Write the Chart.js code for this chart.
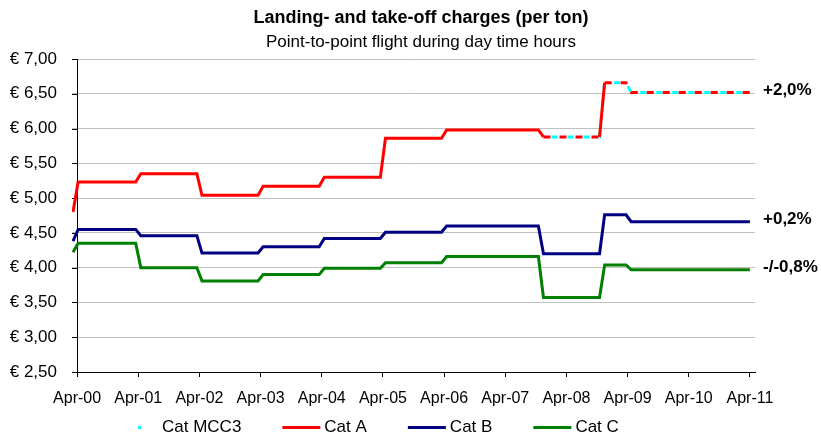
<!DOCTYPE html>
<html>
<head>
<meta charset="utf-8">
<script src="https://cdn.jsdelivr.net/npm/chart.js@4.4.1/dist/chart.umd.min.js"></script>
<style>
  html, body { margin: 0; padding: 0; background: #ffffff; }
  canvas { display: block; }
</style>
</head>
<body>
<canvas id="charges" width="821" height="437"></canvas>
<script>
// Months counted from April 2000 (0 = Apr-00, 12 = Apr-01, ...).
// Each tariff change is a pair of points: old level, then new level.
const months = [-0.8, 0.2, 11.5, 12.5, 23.5, 24.5, 35.5, 36.5, 47.5, 48.5, 59.5, 60.5,
                71.5, 72.5, 90.5, 91.5, 102.5, 103.5, 107.7, 108.7, 132];

const catA = [4.80, 5.23, 5.23, 5.35, 5.35, 5.04, 5.04, 5.17, 5.17, 5.30, 5.30, 5.86,
              5.86, 5.98, 5.98, 5.88, 5.88, 6.66, 6.66, 6.52, 6.52];
const catB = [4.38, 4.55, 4.55, 4.46, 4.46, 4.21, 4.21, 4.30, 4.30, 4.42, 4.42, 4.51,
              4.51, 4.60, 4.60, 4.20, 4.20, 4.76, 4.76, 4.66, 4.66];
const catC = [4.22, 4.35, 4.35, 4.00, 4.00, 3.81, 3.81, 3.90, 3.90, 3.99, 3.99, 4.07,
              4.07, 4.16, 4.16, 3.57, 3.57, 4.04, 4.04, 3.97, 3.97];

// MCC3 category only exists from late 2007 onwards
const mcc3Months = [91.5, 102.5, 103.5, 107.7, 108.7, 132];
const mcc3 = [5.88, 5.88, 6.66, 6.66, 6.52, 6.52];

// Cat A is shown dashed (forecast) from this month on
const forecastFrom = 91.5;

const xTickLabels = ['Apr-00', 'Apr-01', 'Apr-02', 'Apr-03', 'Apr-04', 'Apr-05',
                     'Apr-06', 'Apr-07', 'Apr-08', 'Apr-09', 'Apr-10', 'Apr-11'];
const yTickValues = [2.5, 3.0, 3.5, 4.0, 4.5, 5.0, 5.5, 6.0, 6.5, 7.0];
const yTickLabels = ['€ 2,50', '€ 3,00', '€ 3,50', '€ 4,00', '€ 4,50',
                     '€ 5,00', '€ 5,50', '€ 6,00', '€ 6,50', '€ 7,00'];

const endLabels = ['+2,0%', '+0,2%', '-/-0,8%'];

const FONT = "'Liberation Sans', Arial, sans-serif";

const toPoints = (xs, ys) => xs.map((x, i) => ({ x: x, y: ys[i] }));

// Vertical axis sits at Apr-00, slightly inside the plot area, with short ticks to its left
const valueAxisAtStart = {
  id: 'valueAxisAtStart',
  beforeDatasetsDraw(chart) {
    const { ctx, chartArea, scales } = chart;
    const ax = Math.round(scales.x.getPixelForValue(0)) + 0.5;
    ctx.save();
    ctx.strokeStyle = '#000000';
    ctx.lineWidth = 1;
    ctx.beginPath();
    ctx.moveTo(ax, chartArea.top);
    ctx.lineTo(ax, chartArea.bottom);
    yTickValues.forEach(v => {
      const py = Math.round(scales.y.getPixelForValue(v)) + 0.5;
      ctx.moveTo(chartArea.left, py);
      ctx.lineTo(ax, py);
    });
    ctx.stroke();
    ctx.restore();
  }
};

// Headings, change percentages at the line ends, and the legend row
const annotations = {
  id: 'annotations',
  afterDraw(chart) {
    const { ctx, scales } = chart;
    ctx.save();
    ctx.fillStyle = '#000000';
    ctx.textAlign = 'center';
    ctx.textBaseline = 'middle';
    ctx.font = 'bold 18px ' + FONT;
    ctx.fillText('Landing- and take-off charges (per ton)', 421, 18);
    ctx.font = '17px ' + FONT;
    ctx.fillText('Point-to-point flight during day time hours', 421, 42);

    ctx.textAlign = 'left';
    ctx.font = 'bold 17px ' + FONT;
    [catA, catB, catC].forEach((series, i) => {
      const py = scales.y.getPixelForValue(series[series.length - 1]) - 2;
      ctx.fillText(endLabels[i], 763, py);
    });

    // legend
    ctx.font = '17px ' + FONT;
    let lx = 120;
    const ly = 427;
    chart.data.datasets.forEach((ds, i) => {
      ctx.save();
      ctx.strokeStyle = ds.borderColor;
      ctx.lineWidth = 3;
      if (i === 0) {
        ctx.setLineDash([3, 100]);
        ctx.lineDashOffset = -18;
      }
      ctx.beginPath();
      ctx.moveTo(lx, ly + 0.5);
      ctx.lineTo(lx + 38, ly + 0.5);
      ctx.stroke();
      ctx.restore();
      ctx.fillText(ds.label, lx + 42, ly);
      lx += 42 + ctx.measureText(ds.label).width + 41;
    });
    ctx.restore();
  }
};

new Chart(document.getElementById('charges'), {
  type: 'line',
  data: {
    datasets: [
      {
        label: 'Cat MCC3',
        data: toPoints(mcc3Months, mcc3),
        borderColor: '#00FFFF',
        borderWidth: 3,
        borderDash: [6, 10],
        borderDashOffset: 8,
        order: 1
      },
      {
        label: 'Cat A',
        data: toPoints(months, catA),
        borderColor: '#FF0000',
        borderWidth: 3,
        order: 0,
        segment: {
          borderDash: c => (c.p0.parsed.x >= forecastFrom && c.p1.parsed.y <= c.p0.parsed.y) ? [7, 9] : undefined
        }
      },
      {
        label: 'Cat B',
        data: toPoints(months, catB),
        borderColor: '#000080',
        borderWidth: 3,
        order: 0
      },
      {
        label: 'Cat C',
        data: toPoints(months, catC),
        borderColor: '#008000',
        borderWidth: 3,
        order: 0
      }
    ]
  },
  options: {
    responsive: false,
    animation: false,
    devicePixelRatio: 1,
    parsing: false,
    normalized: true,
    elements: {
      point: { radius: 0, hoverRadius: 0 },
      line: { tension: 0, fill: false, borderJoinStyle: 'miter', borderCapStyle: 'butt' }
    },
    layout: { padding: { top: 59, right: 66, bottom: 0, left: 0 } },
    plugins: {
      legend: { display: false },
      title: { display: false },
      tooltip: { enabled: false }
    },
    scales: {
      x: {
        type: 'linear',
        min: -1,
        max: 133,
        afterBuildTicks: scale => {
          scale.ticks = xTickLabels.map((_, i) => ({ value: i * 12 }));
        },
        afterFit: scale => { scale.height = 65; },
        ticks: {
          autoSkip: false,
          maxRotation: 0,
          padding: 12,
          color: '#000000',
          font: { family: FONT, size: 16 },
          callback: value => xTickLabels[Math.round(value / 12)]
        },
        grid: {
          drawOnChartArea: false,
          drawTicks: true,
          tickLength: 5,
          tickColor: '#000000'
        },
        border: { color: '#000000', width: 1 }
      },
      y: {
        type: 'linear',
        min: 2.5,
        max: 7,
        afterBuildTicks: scale => {
          scale.ticks = yTickValues.map(v => ({ value: v }));
        },
        afterFit: scale => { scale.width = 72; },
        ticks: {
          padding: 15,
          color: '#000000',
          font: { family: FONT, size: 17 },
          callback: (value, index) => yTickLabels[index]
        },
        grid: {
          color: '#c0c0c0',
          lineWidth: 1,
          drawTicks: false
        },
        border: { display: false }
      }
    }
  },
  plugins: [valueAxisAtStart, annotations]
});
</script>
</body>
</html>
